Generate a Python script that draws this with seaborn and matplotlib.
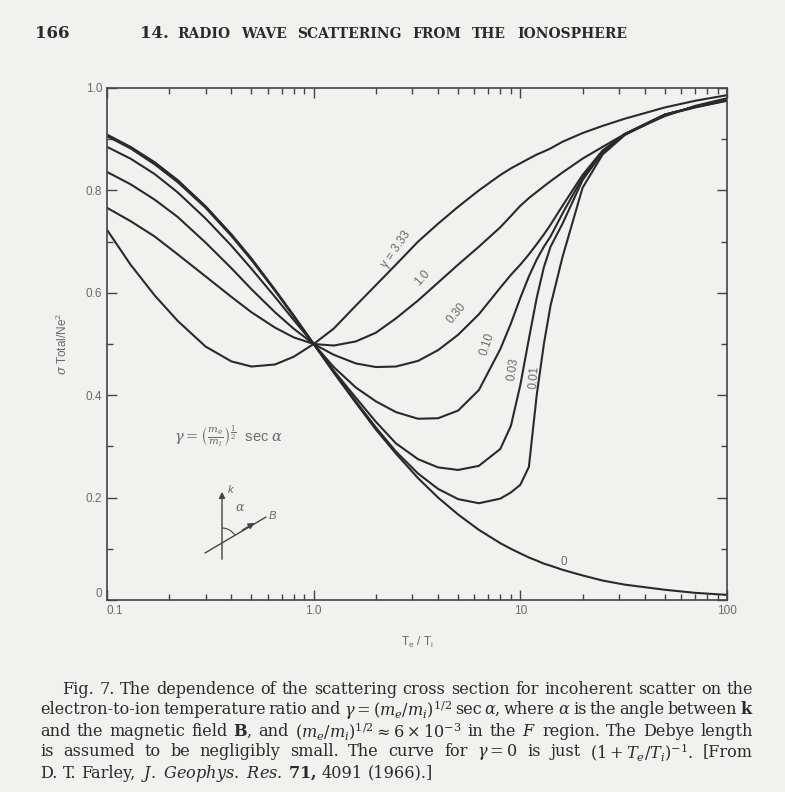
import numpy as np
import pandas as pd
import matplotlib.pyplot as plt
from matplotlib.patches import Arc
import seaborn as sns

ratio = [0.1, 0.13, 0.17, 0.22, 0.3, 0.4, 0.5, 0.65, 0.8, 1.0, 1.25, 1.6, 2.0, 2.5,
         3.2, 4.0, 5.0, 6.3, 8.0, 9.0, 10, 11, 12, 13, 14, 16, 20, 25, 32, 50, 70, 100]

# sigma total / N re^2 for each gamma
s333 = [0.723, 0.655, 0.595, 0.545, 0.495, 0.466, 0.456, 0.46, 0.475, 0.50, 0.53, 0.575,
        0.615, 0.655, 0.70, 0.735, 0.768, 0.80, 0.83, 0.843, 0.853, 0.862, 0.87, 0.876,
        0.882, 0.895, 0.912, 0.926, 0.94, 0.962, 0.975, 0.986]
s100 = [0.766, 0.74, 0.71, 0.675, 0.632, 0.592, 0.562, 0.532, 0.513, 0.50, 0.497, 0.505,
        0.522, 0.55, 0.585, 0.62, 0.655, 0.69, 0.728, 0.75, 0.77, 0.785, 0.797, 0.808,
        0.818, 0.835, 0.862, 0.885, 0.91, 0.945, 0.965, 0.98]
s030 = [0.836, 0.812, 0.782, 0.748, 0.698, 0.648, 0.607, 0.562, 0.53, 0.50, 0.479, 0.462,
        0.455, 0.456, 0.467, 0.488, 0.518, 0.558, 0.61, 0.635, 0.655, 0.675, 0.695, 0.714,
        0.733, 0.77, 0.83, 0.878, 0.91, 0.948, 0.963, 0.976]
s010 = [0.885, 0.862, 0.832, 0.796, 0.745, 0.692, 0.647, 0.592, 0.547, 0.50, 0.455, 0.415,
        0.388, 0.367, 0.354, 0.355, 0.37, 0.41, 0.49, 0.54, 0.59, 0.632, 0.665, 0.69,
        0.71, 0.755, 0.825, 0.876, 0.91, 0.948, 0.963, 0.976]
s003 = [0.906, 0.882, 0.851, 0.816, 0.766, 0.711, 0.664, 0.604, 0.554, 0.50, 0.448, 0.395,
        0.348, 0.306, 0.275, 0.259, 0.254, 0.262, 0.295, 0.34, 0.42, 0.51, 0.59, 0.65,
        0.69, 0.735, 0.82, 0.874, 0.91, 0.948, 0.963, 0.976]
s001 = [0.908, 0.884, 0.854, 0.818, 0.768, 0.713, 0.666, 0.605, 0.555, 0.50, 0.446, 0.388,
        0.337, 0.29, 0.247, 0.217, 0.197, 0.189, 0.198, 0.21, 0.225, 0.26, 0.40, 0.50,
        0.575, 0.67, 0.805, 0.87, 0.908, 0.947, 0.962, 0.975]
s000 = [0.909, 0.885, 0.855, 0.82, 0.769, 0.714, 0.667, 0.606, 0.556, 0.50, 0.444, 0.385,
        0.333, 0.286, 0.238, 0.20, 0.167, 0.137, 0.111, 0.10, 0.091, 0.083, 0.077, 0.071,
        0.067, 0.059, 0.048, 0.038, 0.03, 0.02, 0.014, 0.01]

gammas = ["3.33", "1.0", "0.30", "0.10", "0.03", "0.01", "0"]
curve_labels = ["\u03b3 = 3.33", "1.0", "0.30", "0.10", "0.03", "0.01", "0"]
label_x = [2.5, 3.35, 4.9, 6.9, 9.2, 11.7, 16.3]
label_y = [0.685, 0.63, 0.56, 0.50, 0.45, 0.435, 0.075]
label_rot = [55, 48, 50, 72, 82, 86, 0]

header = "RADIO WAVE SCATTERING FROM THE IONOSPHERE"
caption = [
    r"Fig. 7. The dependence of the scattering cross section for incoherent scatter on the",
    r"electron-to-ion temperature ratio and $\gamma = (m_e/m_i)^{1/2}$ sec $\alpha$, where $\alpha$ is the angle between $\mathbf{k}$",
    r"and the magnetic field $\mathbf{B}$, and $(m_e/m_i)^{1/2} \approx 6 \times 10^{-3}$ in the $F$ region. The Debye length",
    r"is assumed to be negligibly small. The curve for $\gamma = 0$ is just $(1 + T_e/T_i)^{-1}$. [From",
    r"D. T. Farley, $J.\ Geophys.\ Res.$ $\mathbf{71,}$ 4091 (1966).]",
]

sns.set_style("ticks")
plt.rcParams["font.family"] = ["Liberation Sans", "DejaVu Sans"]
plt.rcParams["mathtext.fontset"] = "dejavuserif"

page = "#f1f1ef"
ink = "#2a2a2a"
grey = "#6a6a6a"

df = pd.DataFrame({"ratio": ratio, "3.33": s333, "1.0": s100, "0.30": s030,
                   "0.10": s010, "0.03": s003, "0.01": s001, "0": s000})
long = df.melt(id_vars="ratio", var_name="gamma", value_name="sigma")

fig = plt.figure(figsize=(7.85, 7.92), dpi=100, facecolor=page)
ax = fig.add_axes([107 / 785, 1 - 600 / 792, 620 / 785, 512 / 792])
ax.set_facecolor(page)

sns.lineplot(data=long, x="ratio", y="sigma", hue="gamma", hue_order=gammas,
             palette={g: ink for g in gammas}, units="gamma", estimator=None,
             legend=False, lw=1.5, ax=ax)

ax.set_xscale("log")
ax.set_xlim(0.1, 100)
ax.set_ylim(0, 1.0)
ax.set_xticks([0.1, 1, 10, 100])
ax.set_xticklabels(["0.1", "1.0", "10", "100"])
ax.set_yticks([0, 0.2, 0.4, 0.6, 0.8, 1.0])
ax.set_yticklabels(["0", "0.2", "0.4", "0.6", "0.8", "1.0"])
ax.set_yticks([0.1, 0.3, 0.5, 0.7, 0.9], minor=True)
ax.tick_params(which="both", direction="in", top=True, right=True,
               colors="#444", labelcolor=grey, labelsize=8.5)
ax.tick_params(which="major", length=7, width=1)
ax.tick_params(which="minor", length=4, width=1)
ax.get_xticklabels()[0].set_ha("left")
ax.get_yticklabels()[0].set_va("bottom")
for sp in ax.spines.values():
    sp.set_color("#444")
    sp.set_linewidth(1.2)

ax.set_xlabel(r"T$_\mathregular{e}$ / T$_\mathregular{i}$", color=grey, fontsize=8.5, labelpad=13)
ax.set_ylabel(r"$\sigma$ Total/Ne$^2$", color=grey, fontsize=8.5, labelpad=11)

for txt, x, y, r in zip(curve_labels, label_x, label_y, label_rot):
    ax.text(x, y, txt, rotation=r, fontsize=8.5, color=grey, ha="center", va="center")

# overlay in page pixels for header, inset sketch and caption
ov = fig.add_axes([0, 0, 1, 1])
ov.set_xlim(0, 785)
ov.set_ylim(792, 0)
ov.axis("off")
ov.patch.set_alpha(0)

serif = ["DejaVu Serif"]
renderer = fig.canvas.get_renderer()


def split_words(s):
    words, cur, inmath = [], "", False
    for ch in s:
        if ch == "$":
            inmath = not inmath
        if ch == " " and not inmath:
            if cur:
                words.append(cur)
            cur = ""
        else:
            cur += ch
    if cur:
        words.append(cur)
    return words


def put_line(x0, x1, y, line, justify, **kw):
    words = split_words(line)
    texts = [ov.text(0, y, w, va="center", **kw) for w in words]
    widths = [t.get_window_extent(renderer).width for t in texts]
    if justify and len(words) > 1:
        gap = (x1 - x0 - sum(widths)) / (len(words) - 1)
    else:
        gap = kw["fontsize"] * 0.33 * 100 / 72
    x = x0
    for t, w in zip(texts, widths):
        t.set_x(x)
        x += w + gap


ov.text(35, 33, "166", family=serif, fontsize=12, weight="bold", color=ink, va="center")
ov.text(140, 33, "14.", family=serif, fontsize=12, weight="bold", color=ink, va="center")
put_line(177, 627, 34, header, True, family=serif, fontsize=10, weight="bold", color=ink)

ov.text(174, 437, r"$\gamma = \left(\frac{m_e}{m_i}\right)^{\frac{1}{2}}$  sec $\alpha$",
        fontsize=10.5, color=grey, va="center")
ov.annotate("", xy=(222, 489), xytext=(222, 562),
            arrowprops=dict(arrowstyle="-|>", color="#444", lw=1, mutation_scale=9))
ov.plot([205, 266], [553, 517], color="#444", lw=1)
ov.annotate("", xy=(257, 521.5), xytext=(240, 531.5),
            arrowprops=dict(arrowstyle="-|>", color="#444", lw=1, mutation_scale=9))
ov.add_patch(Arc((222, 543), 30, 30, theta1=270, theta2=329, color="#444", lw=0.8))
ov.text(228, 490, "k", fontsize=8, style="italic", color=grey, va="center")
ov.text(269, 516, "B", fontsize=8, style="italic", color=grey, va="center")
ov.text(235, 508, r"$\alpha$", fontsize=9, color=grey, va="center")

cap_x = [62, 40, 40, 40, 40]
for i, line in enumerate(caption):
    put_line(cap_x[i], 753, 689 + 21 * i, line, i < 4,
             family=serif, fontsize=11.6, color=ink)

fig.savefig("out.png", dpi=100, facecolor=page)
